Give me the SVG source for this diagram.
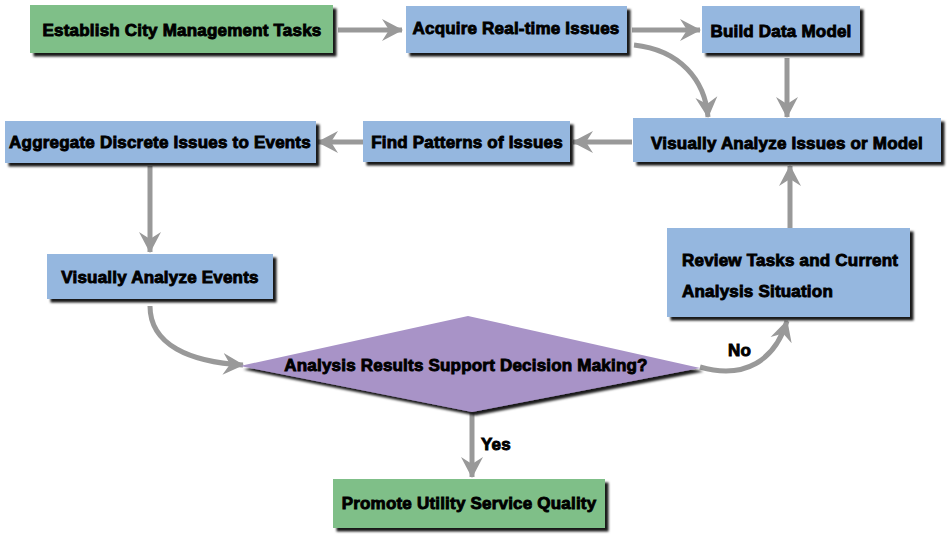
<svg xmlns="http://www.w3.org/2000/svg" width="948" height="538" viewBox="0 0 948 538">
<defs>
<filter id="sh" x="-10%" y="-20%" width="130%" height="150%">
<feDropShadow dx="3.5" dy="3.5" stdDeviation="1.2" flood-color="#000" flood-opacity="0.9"/>
</filter>
<marker id="ah" markerUnits="userSpaceOnUse" markerWidth="24" markerHeight="24" viewBox="0 0 24 24" refX="20" refY="12" orient="auto">
<path d="M0,1 L21,12 L0,23 L7,12 Z" fill="#999"/>
</marker>
</defs>
<style>
.g{fill:#7fbf88}
.b{fill:#95b7df}
.p{fill:#a893c7}
.n{filter:url(#sh)}
text{font-family:"Liberation Sans",Arial,sans-serif;font-weight:bold;font-size:17px;letter-spacing:0.2px;fill:#000;stroke:#000;stroke-width:0.9}
.c{text-anchor:middle}
.e{fill:none;stroke:#999;stroke-width:5;marker-end:url(#ah)}
</style>
<rect width="948" height="538" fill="#fff"/>
<g id="connectors">
<path class="e" d="M338,30 L402,30"/>
<path class="e" d="M632,30 L700,30"/>
<path class="e" d="M634,45 C680,50 705,80 708,117"/>
<path class="e" d="M787,58 L787,117"/>
<path class="e" d="M632,142 L573,142"/>
<path class="e" d="M363,142 L318,142"/>
<path class="e" d="M150,166 L150,252"/>
<path class="e" d="M150,306 C150,345 190,362 243,365"/>
<path class="e" d="M700,367 C745,380 775,360 787,321"/>
<path class="e" d="M790,228 L790,166"/>
<path class="e" d="M472,413 L472,477"/>
</g>
<g id="n1"><rect class="g n" x="30" y="5" width="303" height="48"/><text class="c" x="182" y="36">Establish City Management Tasks</text></g>
<g id="n2"><rect class="b n" x="406" y="6" width="221" height="47"/><text class="c" x="516" y="34">Acquire Real-time Issues</text></g>
<g id="n3"><rect class="b n" x="702" y="6" width="158" height="47"/><text class="c" x="781" y="37">Build Data Model</text></g>
<g id="n4"><rect class="b n" x="633" y="118" width="308" height="44"/><text class="c" x="787" y="149">Visually Analyze Issues or Model</text></g>
<g id="n5"><rect class="b n" x="363" y="121" width="207" height="41"/><text class="c" x="467" y="148">Find Patterns of Issues</text></g>
<g id="n6"><rect class="b n" x="5" y="121" width="311" height="42"/><text class="c" x="160" y="148">Aggregate Discrete Issues to Events</text></g>
<g id="n7"><rect class="b n" x="47" y="254" width="226" height="45"/><text class="c" x="160" y="283">Visually Analyze Events</text></g>
<g id="n8"><rect class="b n" x="667" y="228" width="243" height="89"/><text x="682" y="266">Review Tasks and Current</text><text x="682" y="297">Analysis Situation</text></g>
<g id="n9"><polygon class="p n" points="240,366 468,316 700,368 472,412"/><text class="c" x="466" y="371">Analysis Results Support Decision Making?</text></g>
<g id="n10"><rect class="g n" x="333" y="479" width="272" height="49"/><text class="c" x="469" y="509">Promote Utility Service Quality</text></g>
<text x="728" y="356">No</text>
<text x="481" y="450">Yes</text>
</svg>
